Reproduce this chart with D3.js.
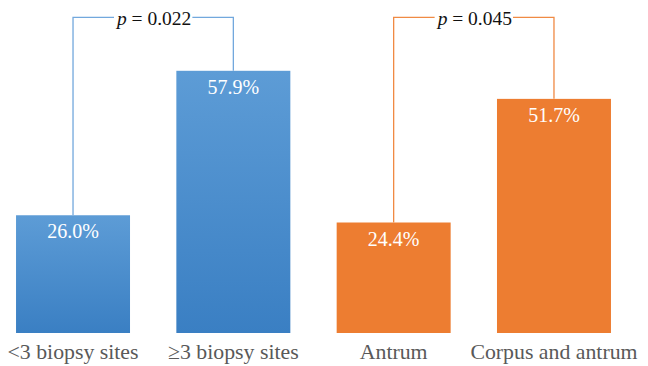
<!DOCTYPE html>
<html>
<head>
<meta charset="utf-8">
<script src="https://cdn.jsdelivr.net/npm/d3@7"></script>
<style>
  html, body { margin: 0; padding: 0; background: #fff; }
  svg { display: block; }
</style>
</head>
<body>
<svg id="chart" width="648" height="366"></svg>
<script>
const categories = ["<3 biopsy sites", "≥3 biopsy sites", "Antrum", "Corpus and antrum"];
const values = [26.0, 57.9, 24.4, 51.7];
const valueLabels = ["26.0%", "57.9%", "24.4%", "51.7%"];
const groups = ["sites", "sites", "location", "location"];
const comparisons = [
  { a: "<3 biopsy sites", b: "≥3 biopsy sites", p: "0.022", group: "sites" },
  { a: "Antrum", b: "Corpus and antrum", p: "0.045", group: "location" }
];

const svg = d3.select("#chart");

const x = d3.scaleBand()
  .domain(categories)
  .range([0, 627])
  .paddingInner(0.289)
  .paddingOuter(0.1);

const y = d3.scaleLinear()
  .domain([0, 70])
  .range([333, 16]);

const defs = svg.append("defs");
const grad = defs.append("linearGradient")
  .attr("id", "blueGrad").attr("x1", 0).attr("y1", 0).attr("x2", 0).attr("y2", 1);
grad.append("stop").attr("offset", "0%").attr("stop-color", "#5d9cd6");
grad.append("stop").attr("offset", "100%").attr("stop-color", "#3a7fc3");

const fillFor = g => g === "sites" ? "url(#blueGrad)" : "#ed7d31";
const lineFor = g => g === "sites" ? "#72a8dd" : "#f08a44";

const serif = "Liberation Serif, Times New Roman, serif";

// bars
svg.append("g").selectAll("rect")
  .data(categories)
  .join("rect")
  .attr("x", d => x(d))
  .attr("y", (d, i) => y(values[i]))
  .attr("width", x.bandwidth())
  .attr("height", (d, i) => y(0) - y(values[i]))
  .attr("fill", (d, i) => fillFor(groups[i]));

// value labels
svg.append("g").selectAll("text")
  .data(categories)
  .join("text")
  .attr("x", d => x(d) + x.bandwidth() / 2)
  .attr("y", (d, i) => y(values[i]) + 23)
  .attr("text-anchor", "middle")
  .style("font-family", serif)
  .style("font-size", "20px")
  .attr("fill", "#ffffff")
  .text((d, i) => valueLabels[i]);

// category axis labels
const xAxis = d3.axisBottom(x).tickSize(0).tickPadding(0);
const axisG = svg.append("g").attr("transform", `translate(0, ${y(0)})`).call(xAxis);
axisG.select(".domain").remove();
axisG.selectAll("text")
  .attr("dy", null)
  .attr("y", 26)
  .style("font-family", serif)
  .style("font-size", "21.8px")
  .attr("fill", "#595959");

// comparison brackets
const bracketY = 17.3;
comparisons.forEach(c => {
  const i = categories.indexOf(c.a), j = categories.indexOf(c.b);
  const xa = x(c.a) + x.bandwidth() / 2;
  const xb = x(c.b) + x.bandwidth() / 2;
  const g = svg.append("g");
  g.append("path")
    .attr("d", `M${xa},${y(values[i])}V${bracketY}H${xb}V${y(values[j])}`)
    .attr("fill", "none")
    .attr("stroke", lineFor(c.group))
    .attr("stroke-width", 1.3);
  const t = g.append("text")
    .attr("x", (xa + xb) / 2 + 1)
    .attr("y", 24.5)
    .attr("text-anchor", "middle")
    .style("font-family", serif)
    .style("font-size", "19.5px")
    .attr("fill", "#111111");
  t.append("tspan").style("font-style", "italic").text("p");
  t.append("tspan").text(" = " + c.p);
  const bb = t.node().getBBox();
  g.insert("rect", "text")
    .attr("x", bb.x - 1)
    .attr("y", bracketY - 3)
    .attr("width", bb.width + 2)
    .attr("height", 6)
    .attr("fill", "#ffffff");
});
</script>
</body>
</html>
